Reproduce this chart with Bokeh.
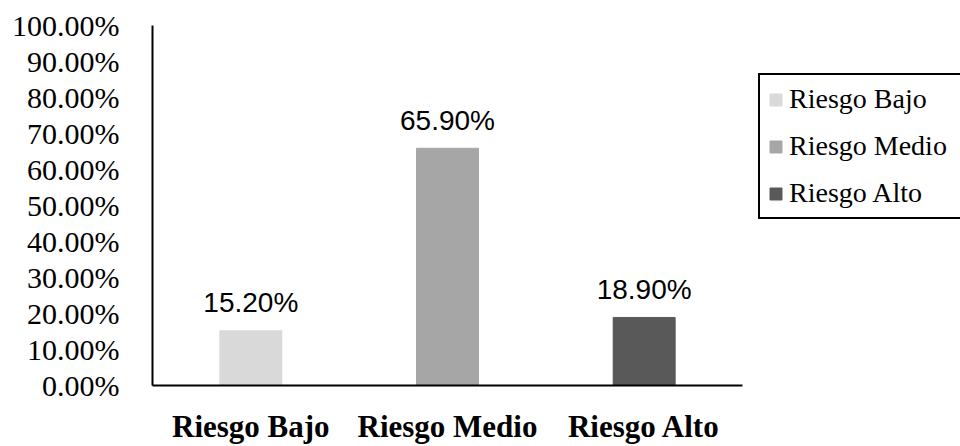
from bokeh.plotting import figure
from bokeh.layouts import row
from bokeh.models import ColumnDataSource, Legend, LegendItem, FixedTicker, PrintfTickFormatter, Range1d
from bokeh.core.properties import value
from bokeh.embed import file_html
from bokeh.resources import INLINE

categories = ["Riesgo Bajo", "Riesgo Medio", "Riesgo Alto"]
percentages = [15.20, 65.90, 18.90]
colors = ["#D9D9D9", "#A6A6A6", "#595959"]
labels = ["15.20%", "65.90%", "18.90%"]
y_ticks = [0, 10, 20, 30, 40, 50, 60, 70, 80, 90, 100]

src = ColumnDataSource(dict(cat=categories, val=percentages, color=colors, lab=labels))

p = figure(x_range=categories, y_range=Range1d(0, 100), width=757, height=446,
           output_backend="svg", toolbar_location=None,
           min_border_left=152, min_border_right=15, min_border_top=25, min_border_bottom=54)
p.outline_line_color = None
p.grid.grid_line_color = None
p.background_fill_color = "white"
p.border_fill_color = "white"

bars = p.vbar(x="cat", top="val", width=0.315, color="color", source=src)
p.text(x="cat", y="val", text="lab", source=src, text_align="center", text_baseline="alphabetic",
       y_offset=-28, text_font=value("Liberation Sans"), text_font_size="28px", text_color="#000000")

p.yaxis.ticker = FixedTicker(ticks=y_ticks)
p.yaxis.formatter = PrintfTickFormatter(format="%.2f%%")
p.yaxis.major_label_text_font = "Liberation Serif"
p.yaxis.major_label_text_font_size = "30px"
p.yaxis.major_label_text_color = "#000000"
p.yaxis.major_label_standoff = 27
p.yaxis.major_tick_line_color = None
p.yaxis.minor_tick_line_color = None
p.yaxis.axis_line_width = 2
p.yaxis.axis_line_color = "#000000"

p.xaxis.major_label_text_font = "Liberation Serif"
p.xaxis.major_label_text_font_size = "31px"
p.xaxis.major_label_text_font_style = "bold"
p.xaxis.major_label_text_color = "#000000"
p.xaxis.major_label_standoff = 17
p.xaxis.major_tick_line_color = None
p.xaxis.minor_tick_line_color = None
p.xaxis.axis_line_width = 2
p.xaxis.axis_line_color = "#000000"

# legend panel (proxy glyphs lie outside the visible range)
p2 = figure(width=203, height=446, output_backend="svg", toolbar_location=None,
            x_axis_location=None, y_axis_location=None,
            min_border_left=0, min_border_right=0, min_border_top=0, min_border_bottom=0,
            x_range=Range1d(0, 1), y_range=Range1d(0, 1))
p2.grid.grid_line_color = None
p2.outline_line_color = None
p2.border_fill_color = "white"
p2.background_fill_color = "white"
leg_renderers = [p2.vbar(x=[5], top=[5], bottom=[4], width=0.5, color=c) for c in colors]
items = [LegendItem(label=categories[i], renderers=[leg_renderers[i]]) for i in range(3)]
legend = Legend(items=items, location=(1, 166), label_text_font="Liberation Serif",
                label_text_font_size="28px", label_text_color="#000000",
                glyph_width=15, glyph_height=15, label_height=24, label_width=190,
                spacing=15, padding=8,
                label_standoff=6, border_line_color="#000000", border_line_width=2,
                border_line_alpha=1.0, margin=0, background_fill_color="white")
p2.add_layout(legend, "center")

layout = row(p, p2, spacing=0)
open("out.html", "w").write(file_html(layout, INLINE))
